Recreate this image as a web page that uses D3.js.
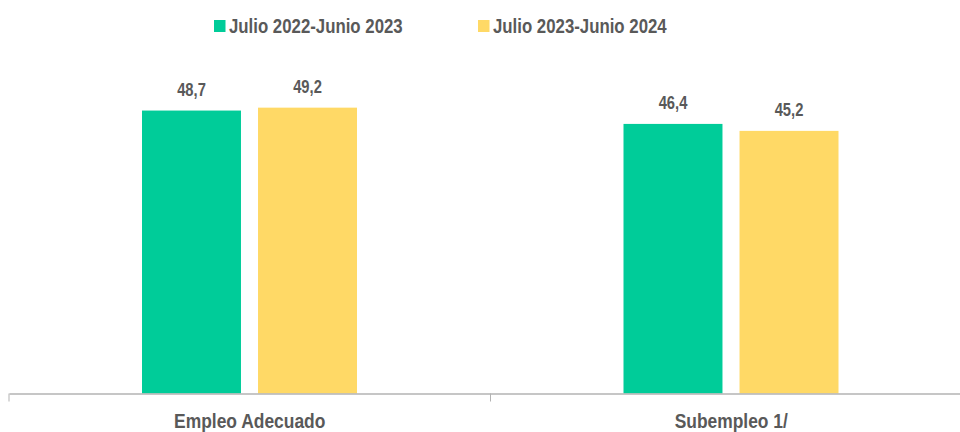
<!DOCTYPE html>
<html>
<head>
<meta charset="utf-8">
<script src="https://cdn.jsdelivr.net/npm/d3@7"></script>
<style>
  body { margin: 0; background: #fff; }
  svg text { font-family: "Liberation Sans", Arial, sans-serif; font-weight: bold; fill: #595959; }
  .axis path, .axis line { stroke: #b3b3b3; }
</style>
</head>
<body>
<div id="chart"></div>
<script>
var categories = ['Empleo Adecuado', 'Subempleo 1/'];
var seriesNames = ['Julio 2022-Junio 2023', 'Julio 2023-Junio 2024'];
var serie2023 = [48.7, 46.4];
var serie2024 = [49.2, 45.2];
var colors = ['#00cc99', '#ffd966'];

var width = 960, height = 432;
var narrow = 0.82; // squeeze Liberation Sans into an Arial Narrow look
var data = categories.map(function(c, i) {
  return { cat: c, values: [serie2023[i], serie2024[i]] };
});

var svg = d3.select('#chart')
  .append('svg')
  .attr('width', width)
  .attr('height', height);

// scales
var x0 = d3.scaleBand().domain(categories).range([9, 972]).paddingInner(0).paddingOuter(0);
var x1 = d3.scaleBand().domain(seriesNames).range([133, 348]).paddingInner(0.147);
var y = d3.scaleLinear().domain([0, 60]).range([393.5, 44.9]);

// bars
var groups = svg.selectAll('.group')
  .data(data)
  .enter().append('g')
  .attr('class', 'group')
  .attr('transform', function(d) { return 'translate(' + x0(d.cat) + ',0)'; });

groups.selectAll('rect')
  .data(function(d) { return d.values.map(function(v, i) { return { name: seriesNames[i], v: v, i: i }; }); })
  .enter().append('rect')
  .attr('x', function(d) { return x1(d.name); })
  .attr('width', x1.bandwidth())
  .attr('y', function(d) { return y(d.v); })
  .attr('height', function(d) { return y(0) - y(d.v); })
  .attr('fill', function(d) { return colors[d.i]; });

// value labels
groups.selectAll('.val')
  .data(function(d) { return d.values.map(function(v, i) { return { name: seriesNames[i], v: v }; }); })
  .enter().append('text')
  .attr('class', 'val')
  .attr('transform', function(d) {
    return 'translate(' + (x1(d.name) + x1.bandwidth() / 2) + ',' + (y(d.v) - 14.5) + ') scale(' + narrow + ',1)';
  })
  .attr('text-anchor', 'middle')
  .style('font-size', '18px')
  .text(function(d) { return d3.format('.1f')(d.v).replace('.', ','); });

// x axis
var xAxis = d3.axisBottom(x0).tickSize(0).tickSizeOuter(0);
var axisG = svg.append('g')
  .attr('class', 'axis')
  .attr('transform', 'translate(0,' + y(0) + ')')
  .call(xAxis);
axisG.select('.domain').attr('stroke-width', 1.5);
axisG.selectAll('.tick text')
  .attr('dy', 0)
  .attr('y', 0)
  .attr('transform', 'translate(0,34) scale(0.85,1)')
  .style('font-size', '20.5px');
// separators between categories
axisG.selectAll('.sep')
  .data([9].concat(categories.map(function(c) { return x0(c) + x0.bandwidth(); })))
  .enter().append('line')
  .attr('class', 'sep')
  .attr('x1', function(d) { return d; })
  .attr('x2', function(d) { return d; })
  .attr('y1', 0)
  .attr('y2', 8)
  .attr('stroke', '#b3b3b3');

// legend
var legendX = [214, 478];
var legend = svg.selectAll('.legend')
  .data(seriesNames)
  .enter().append('g')
  .attr('class', 'legend')
  .attr('transform', function(d, i) { return 'translate(' + legendX[i] + ',20)'; });
legend.append('rect')
  .attr('width', 11.5)
  .attr('height', 12)
  .attr('fill', function(d, i) { return colors[i]; });
legend.append('text')
  .attr('transform', 'translate(15,12.5) scale(' + narrow + ',1)')
  .style('font-size', '20.5px')
  .text(function(d) { return d; });
</script>
</body>
</html>
